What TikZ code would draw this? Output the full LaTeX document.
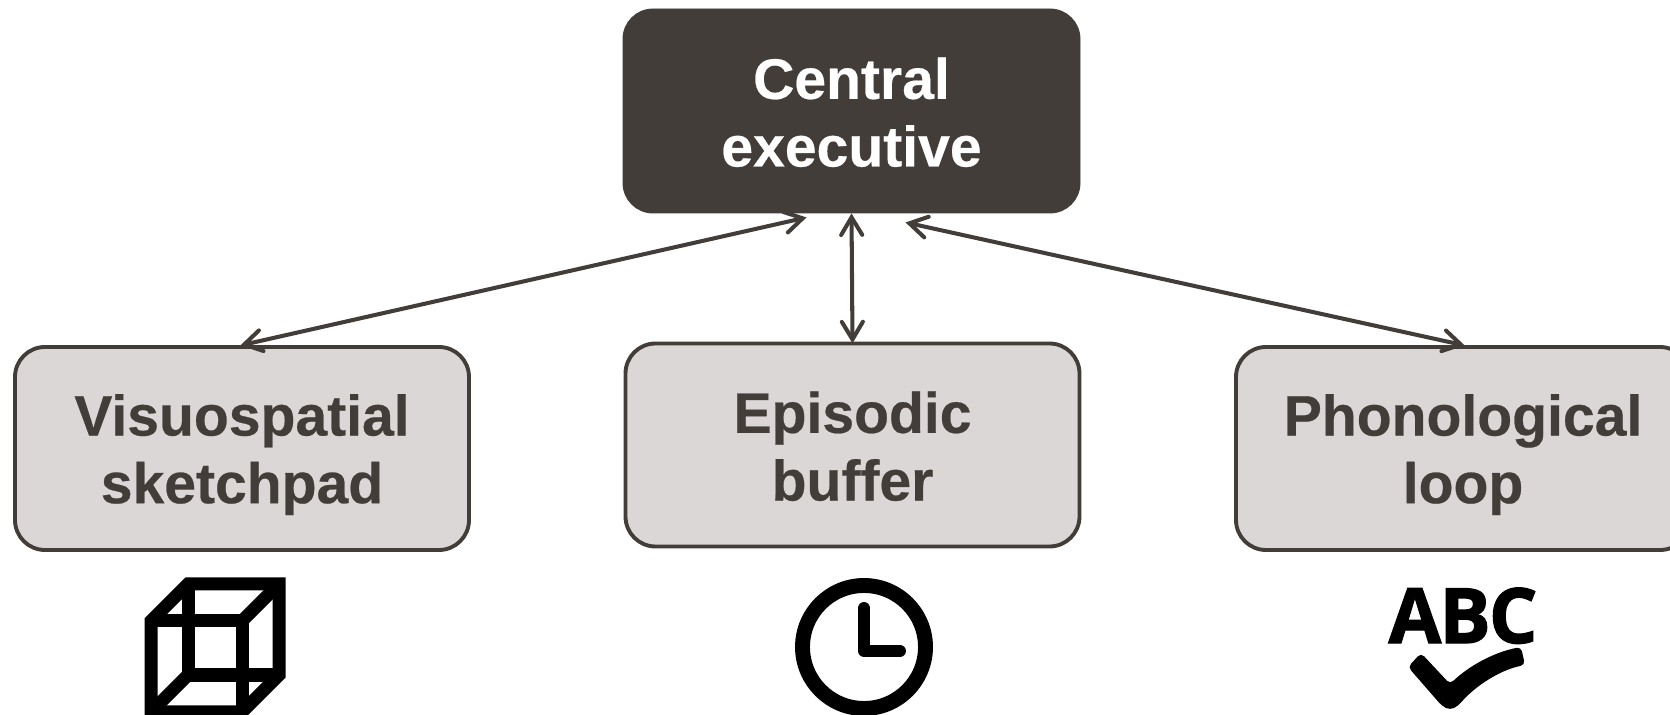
\documentclass[tikz,border=0pt]{standalone}
\usepackage{fontspec}
\setmainfont[BoldFeatures={FakeBold=0.4}]{Liberation Sans}
\newfontfamily\abcfont[BoldFeatures={FakeBold=1.6},LetterSpace=-2.5]{Open Sans}
\usepackage{tikz}
\usetikzlibrary{calc}
\usetikzlibrary{arrows.meta}
\definecolor{darkbrown}{HTML}{433D3A}
\definecolor{lightgrey}{HTML}{DBD7D6}
\tikzset{execbox/.style={rectangle,rounded corners=0.6cm,fill=darkbrown,draw=darkbrown,line width=0.5pt,text=white,font=\bfseries\fontsize{32.5}{38.5}\selectfont,align=center,minimum width=457*0.02cm,minimum height=204*0.02cm,inner sep=0pt}}
\tikzset{slavebox/.style={rectangle,rounded corners=0.6cm,fill=lightgrey,draw=darkbrown,line width=2.2pt,text=darkbrown,font=\bfseries\fontsize{32.5}{38.5}\selectfont,align=center,minimum width=454*0.02cm,minimum height=203*0.02cm,inner sep=0pt}}
\tikzset{link/.style={line width=2.3pt,draw=darkbrown,shorten >=-1pt,{Straight Barb[length=10pt,width=12pt,line cap=round]}-{Straight Barb[length=10pt,width=12pt,line cap=round]}}}
\tikzset{cubeline/.style={line width=7.4pt,line join=miter,draw=black}}
\tikzset{clockline/.style={line width=6.8pt,line join=round,line cap=round,draw=black}}

\begin{document}
\begin{tikzpicture}[x=0.02cm,y=-0.02cm]
\clip (0,0) rectangle (1670,715);
\node[execbox] (central) at (851.5,111) {\rule{0pt}{25pt}Central\\executive};
\node[slavebox] (visuo) at (242,448.5) {\rule{0pt}{30.5pt}Visuospatial\\sketchpad};
\node[slavebox] (episodic) at (852.5,445) {\rule{0pt}{25pt}Episodic\\buffer};
\node[slavebox] (phono) at (1463,448.5) {\rule{0pt}{30.5pt}Phonological\\loop};
\draw[link] ($(central.south)+(-45,4)$) -- (visuo.north);
\draw[link] (central.south) -- (episodic.north);
\draw[link] ($(central.south)+(54,9)$) -- (phono.north);
% cube
\draw[cubeline] (151,621) -- (188,584) -- (279,584) -- (279,675) -- (242,712) -- (151,712) -- cycle;
\draw[cubeline] (151,621) -- (242,621) -- (242,712);
\draw[cubeline] (242,621) -- (279,584);
\draw[cubeline] (188,584) -- (188,675) -- (279,675);
\draw[cubeline] (188,675) -- (151,712);
% clock
\draw[line width=8.5pt,draw=black] (864,647) circle (61.5);
\draw[clockline] (864,608) -- (864,651) -- (900,651);
% abc and tick
\node[anchor=base,inner sep=0pt,text=black,font=\abcfont\bfseries\fontsize{43.5}{43.5}\selectfont] (abc) at (1463,643) {ABC};
\fill[black,rounded corners=2.5pt] (1408,667) -- (1421,653) -- (1450,684) .. controls (1470,665) and (1495,652) .. (1521,647) -- (1525,665) .. controls (1500,670) and (1475,686) .. (1458,706) -- (1450,710) -- (1442,706) -- cycle;
\end{tikzpicture}
\end{document}
